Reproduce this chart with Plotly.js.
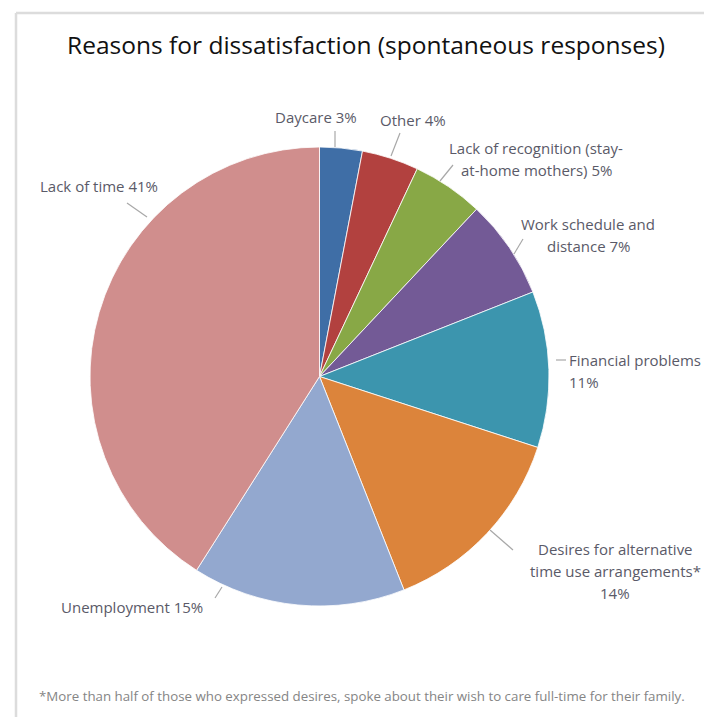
<!DOCTYPE html>
<html>
<head>
<meta charset="utf-8">
<script src="https://cdn.plot.ly/plotly-3.0.1.min.js"></script>
<style>html,body{margin:0;padding:0;background:#fff;}#chart{width:704px;height:717px;}</style>
</head>
<body>
<div id="chart"></div>
<script>
// Data
var categories = ["Daycare", "Other", "Lack of recognition (stay-at-home mothers)", "Work schedule and distance", "Financial problems", "Desires for alternative time use arrangements*", "Unemployment", "Lack of time"];
var values = [3, 4, 5, 7, 11, 14, 15, 41];
var labelTexts = ["Daycare 3%", "Other 4%", "Lack of recognition (stay-<br>at-home mothers) 5%", "Work schedule and<br>distance 7%", "Financial problems<br>11%", "Desires for alternative<br>time use arrangements*<br>14%", "Unemployment 15%", "Lack of time 41%"];
var colors = ["#3F6EA6", "#B2413F", "#88A846", "#735A96", "#3C95AE", "#DC843B", "#93A8CF", "#D08E8D"];
var titleText = "Reasons for dissatisfaction (spontaneous responses)";
var footnote = "*More than half of those who expressed desires, spoke about their wish to care full-time for their family.";

var W = 704, H = 717;
function px(x){ return x / W; }
function py(y){ return 1 - y / H; }

// label layout: x anchor position, y of first line (px), alignment, leader line endpoints
var LINE_GAP = 22;
var labelLayout = [
  {x: 316, y: 117, xa: "center", line: [335,131,335,147]},
  {x: 413, y: 120, xa: "center", line: [400,133,391,156]},
  {x: 536, y: 148, xa: "center", line: [453,165,440,181]},
  {x: 588, y: 224, xa: "center", line: [523,239,514,254]},
  {x: 567, y: 360, xa: "left",   line: [556,360,566,360]},
  {x: 615, y: 549, xa: "center", line: [490,530,513,550]},
  {x: 132, y: 607, xa: "center", line: [222,587,215,598]},
  {x: 99,  y: 186, xa: "center", line: [127,203,147,217]}
];

var annotations = [];
var shapes = [];
labelTexts.forEach(function(t, i){
  var L = labelLayout[i];
  t.split("<br>").forEach(function(part, k){
    annotations.push({
      xref: "paper", yref: "paper", x: px(L.x), y: py(L.y + k * LINE_GAP),
      xanchor: L.xa, yanchor: "middle", align: L.xa === "left" ? "left" : "center",
      text: part, showarrow: false,
      font: {family: "Open Sans, sans-serif", size: 15, color: "#5a5a68"}
    });
  });
  shapes.push({
    type: "line", xref: "paper", yref: "paper",
    x0: px(L.line[0]), y0: py(L.line[1]), x1: px(L.line[2]), y1: py(L.line[3]),
    line: {color: "#a8a8a8", width: 1.2}
  });
});

// footnote
annotations.push({
  xref: "paper", yref: "paper", x: px(37), y: py(696), xanchor: "left", yanchor: "middle",
  text: footnote, showarrow: false,
  font: {family: "Open Sans, sans-serif", size: 13.3, color: "#858585"}
});

// frame
shapes.push({type: "line", xref: "paper", yref: "paper", x0: px(16), y0: py(13), x1: 1.01, y1: py(13), line: {color: "#dcdcdc", width: 2.5}});
shapes.push({type: "line", xref: "paper", yref: "paper", x0: px(16), y0: py(13), x1: px(16), y1: -0.01, line: {color: "#dcdcdc", width: 2.5}});

var trace = {
  type: "pie",
  labels: categories,
  values: values,
  sort: false,
  direction: "clockwise",
  rotation: 0,
  textinfo: "none",
  hoverinfo: "label+percent",
  marker: {colors: colors, line: {color: "#ffffff", width: 0.8}},
  domain: {x: [px(90), px(549)], y: [py(606), py(147)]},
  showlegend: false
};

var layout = {
  width: W, height: H,
  margin: {l: 0, r: 0, t: 0, b: 0},
  paper_bgcolor: "#ffffff",
  title: {
    text: titleText,
    x: px(366), xanchor: "center", y: py(45), yanchor: "middle",
    font: {family: "Open Sans, sans-serif", size: 24.5, color: "#111111"}
  },
  showlegend: false,
  annotations: annotations,
  shapes: shapes
};

Plotly.newPlot("chart", [trace], layout, {displayModeBar: false, staticPlot: true});
</script>
</body>
</html>
